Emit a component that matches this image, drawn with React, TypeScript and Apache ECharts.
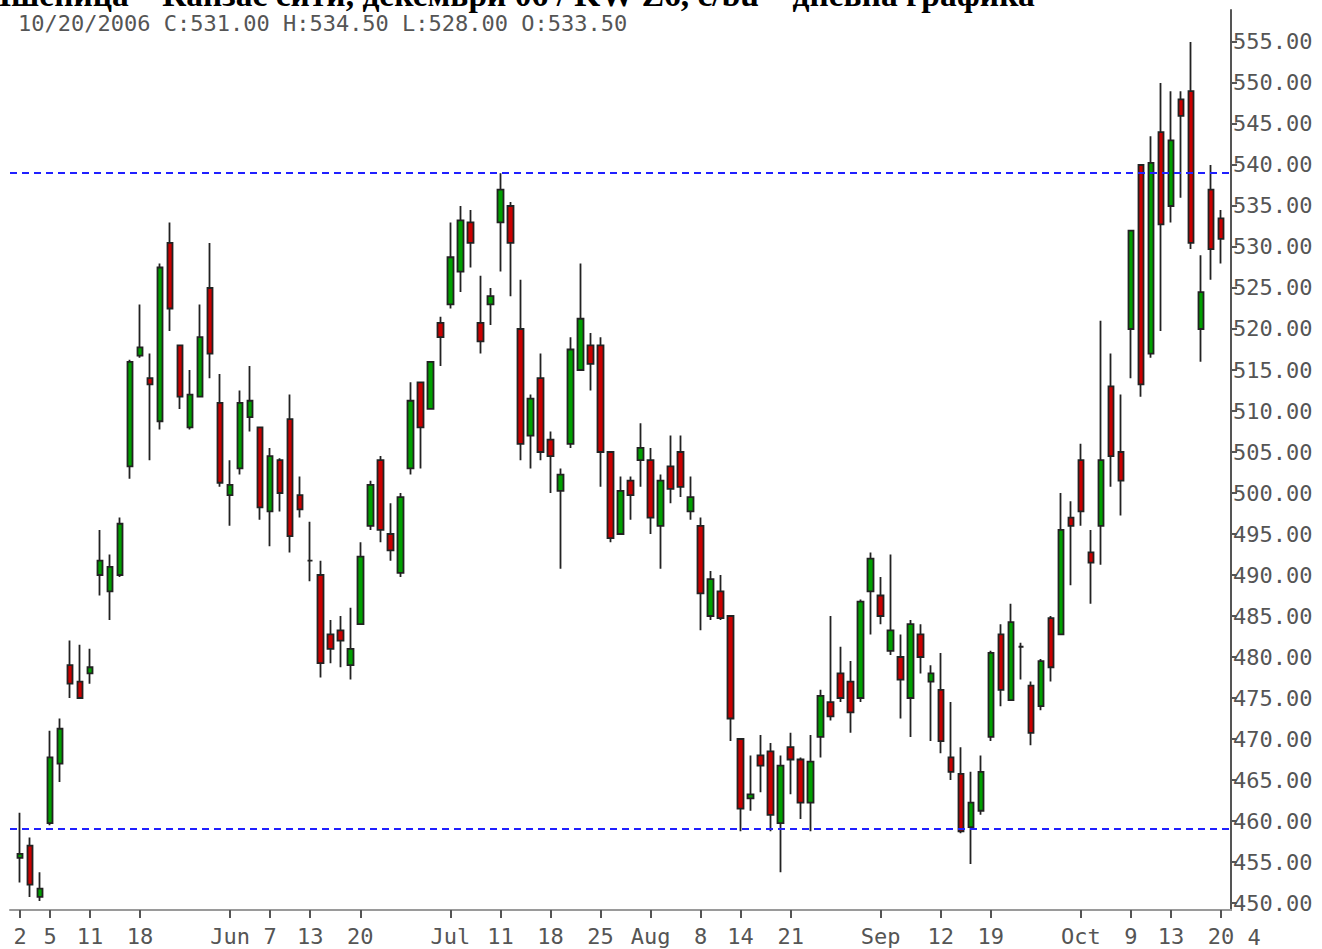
import React, { useEffect, useRef } from "react";
import * as echarts from "echarts";

// Trading days (2006) per month
const mayDays = [2, 3, 4, 5, 8, 9, 10, 11, 12, 15, 16, 17, 18, 19, 22, 23, 24, 25, 26, 30, 31];
const junDays = [1, 2, 5, 6, 7, 8, 9, 12, 13, 14, 15, 16, 19, 20, 21, 22, 23, 26, 27, 28, 29, 30];
const julDays = [3, 5, 6, 7, 10, 11, 12, 13, 14, 17, 18, 19, 20, 21, 24, 25, 26, 27, 28, 31];
const augDays = [1, 2, 3, 4, 7, 8, 9, 10, 11, 14, 15, 16, 17, 18, 21, 22, 23, 24, 25, 28, 29, 30, 31];
const sepDays = [1, 5, 6, 7, 8, 11, 12, 13, 14, 15, 18, 19, 20, 21, 22, 25, 26, 27, 28, 29];
const octDays = [2, 3, 4, 5, 6, 9, 10, 11, 12, 13, 16, 17, 18, 19, 20];

const opens = [
  455.5, 457, 450.75, 459.75, 467, 479, 477, 478, 490, 488,
  490, 503.25, 516.75, 514, 508.75, 530.5, 518, 508, 511.75, 525,
  511, 499.75, 503, 509.25, 508, 497.75, 504, 509, 499.75, 491.75,
  490, 482.75, 483.25, 479, 484, 496, 504, 495, 490.25, 503,
  513.5, 510.25, 520.75, 523, 527, 533, 520.75, 523, 533, 535,
  520, 507, 514, 506.5, 500.25, 506, 515, 518, 518, 505,
  495, 501.5, 504, 504, 496, 503.25, 505, 497.75, 496, 485,
  488, 485, 470, 462.75, 468, 468.5, 459.75, 469, 467.5, 462.25,
  470.25, 474.5, 478, 477, 475, 488, 487.5, 480.75, 480, 475,
  482.75, 477, 476, 467.75, 465.75, 459.25, 461.25, 470.25, 482.75, 474.75,
  481.25, 476.5, 474, 484.75, 482.75, 497, 504, 492.75, 496, 513,
  505, 520, 540, 517, 544, 535, 548, 549, 520, 537,
  533.5,
];
const closes = [
  456, 452.25, 451.75, 467.75, 471.25, 476.75, 475, 478.75, 491.75, 491,
  496.25, 516, 517.75, 513.25, 527.5, 522.5, 511.75, 512, 519, 517,
  501.25, 501, 511, 511.25, 498.25, 504.5, 500, 494.75, 498, 491.75,
  479.25, 481, 482, 481, 492.25, 501, 495.5, 493, 499.5, 511.25,
  508, 516, 519, 528.75, 533.25, 530.5, 518.5, 524, 537, 530.5,
  506, 511.5, 505, 504.5, 502.25, 517.5, 521.25, 515.75, 505, 494.5,
  500.25, 499.75, 505.5, 497, 501.5, 500.5, 500.75, 499.5, 487.75, 489.5,
  484.75, 472.5, 461.5, 463.25, 466.75, 460.75, 466.75, 467.5, 462.25, 467.25,
  475.25, 472.75, 475, 473.25, 486.75, 492, 485, 483.25, 477.25, 484,
  480, 478, 469.75, 466, 458.75, 462.25, 466, 480.5, 476, 484.25,
  481.25, 470.75, 479.5, 478.75, 495.5, 496, 497.75, 491.5, 504, 504.5,
  501.5, 532, 513.25, 540.25, 532.75, 543, 546, 530.5, 524.5, 529.75,
  531,
];
const lows = [
  452.5, 450.75, 450.25, 459.5, 464.75, 475, 475, 476.75, 487.5, 484.5,
  489.75, 501.75, 516.5, 504, 507.75, 519.75, 510.25, 507.75, 511.75, 514,
  500.75, 496, 502.25, 507.5, 496.75, 493.5, 497.75, 492.75, 497, 489.25,
  477.5, 479.25, 478.75, 477.25, 484, 495.5, 494, 491.75, 489.75, 502.25,
  503, 510.25, 515.5, 522.5, 524.5, 527.5, 517, 520.5, 527, 524,
  504, 503, 504, 500, 490.75, 505.5, 515, 512.5, 500.75, 494,
  495, 496.75, 500.75, 495, 490.75, 498.75, 499.5, 496.75, 483.25, 484.5,
  484.5, 469.75, 458.75, 461.25, 463.5, 458.75, 453.75, 463.25, 460.25, 458.75,
  467.75, 472.25, 474.5, 470.75, 474.5, 482.75, 484, 480.25, 472.5, 470.25,
  478, 469.75, 468.25, 465, 458.5, 454.75, 460.75, 469.75, 474, 474.75,
  477.25, 469.25, 473.5, 477, 482.75, 488.75, 496, 486.5, 491.25, 500.75,
  497.25, 514, 511.75, 516.5, 519.75, 533, 536, 529.75, 516, 526,
  528,
];
const highs = [
  461, 458, 453.75, 471, 472.5, 482, 481.5, 481, 495.5, 492.5,
  497, 516.25, 523, 517, 528, 533, 518, 515, 523, 530.5,
  514.5, 504, 512.5, 515.5, 508, 505.5, 504.25, 512, 502, 496.5,
  491.75, 484.5, 485, 486, 494, 501.5, 504.5, 498.75, 500, 513.5,
  513.5, 516, 521.5, 533, 535, 534.5, 526.5, 525, 539, 535.5,
  526, 512, 517, 507.5, 503, 519, 528, 519.5, 519, 505,
  502, 502, 508.5, 505.5, 502.25, 507, 507, 502, 497, 490.5,
  490, 485, 470, 468, 470.5, 469.5, 468, 470.75, 467.75, 470.5,
  476, 485, 481.25, 479.5, 487, 492.75, 489.75, 492.5, 482.75, 484.5,
  484, 479, 480.5, 474.5, 469, 466, 468, 480.75, 484, 486.5,
  481.75, 477, 479.75, 485, 500, 499, 506, 495.5, 521, 517,
  512, 532, 540, 543.5, 550, 549, 549, 555, 529, 540,
  534.5,
];

const supportLevel = 459;
const resistanceLevel = 539;

const tickDates = [
  "05/02", "05/05", "05/11", "05/18", "06/01", "06/07", "06/13", "06/20",
  "07/03", "07/11", "07/18", "07/25", "08/01", "08/08", "08/14", "08/21",
  "09/01", "09/12", "09/19", "10/02", "10/09", "10/13", "10/20",
];
const tickLabels = [
  "2", "5", "11", "18", "Jun", "7", "13", "20",
  "Jul", "11", "18", "25", "Aug", "8", "14", "21",
  "Sep", "12", "19", "Oct", "9", "13", "20",
];
const yTicks = [450, 455, 460, 465, 470, 475, 480, 485, 490, 495, 500, 505, 510, 515, 520, 525, 530, 535, 540, 545, 550, 555];

const titleText = "Пшеница – Канзас сити, декември 06 / KW Z6, c/bu – дневна графика";
const infoText = "10/20/2006 C:531.00 H:534.50 L:528.00 O:533.50";

const pad = (n: number) => (n < 10 ? "0" + n : "" + n);

export default function App() {
  const ref = useRef<HTMLDivElement>(null);
  useEffect(() => {
    if (!ref.current) return;
    const chart = echarts.init(ref.current, undefined, { renderer: "svg" });

    const months: [number, number[]][] = [
      [5, mayDays], [6, junDays], [7, julDays], [8, augDays], [9, sepDays], [10, octDays],
    ];
    const dates: string[] = [];
    months.forEach(([m, days]) => days.forEach((d) => dates.push(pad(m) + "/" + pad(d))));
    const categories = ["", ...dates, ""];
    const candles: any[] = opens.map((o, i) => [o, closes[i], lows[i], highs[i]]);
    const data = ["-", ...candles, "-"];

    const labelMap: Record<string, string> = {};
    tickDates.forEach((d, i) => (labelMap[d] = tickLabels[i]));

    const font = "DejaVu Sans Mono";
    chart.setOption({
      animation: false,
      backgroundColor: "#ffffff",
      grid: { left: 10, right: 91, top: 10, bottom: 39 },
      xAxis: {
        type: "category",
        data: categories,
        boundaryGap: false,
        axisLine: { show: true, lineStyle: { color: "#9a9a9a", width: 2 } },
        axisTick: {
          show: true,
          length: 8,
          interval: (_i: number, v: string) => v in labelMap,
          lineStyle: { color: "#555", width: 2 },
        },
        axisLabel: {
          interval: (_i: number, v: string) => v in labelMap,
          formatter: (v: string) => labelMap[v] || "",
          color: "#555",
          fontFamily: font,
          fontSize: 22,
          margin: 15,
        },
        splitLine: { show: false },
      },
      yAxis: {
        type: "value",
        position: "right",
        min: 449.15,
        max: 558.9,
        scale: true,
        axisLine: { show: true, lineStyle: { color: "#555", width: 2 } },
        axisTick: { show: true, length: 6, customValues: yTicks, lineStyle: { color: "#555", width: 2 } },
        axisLabel: {
          customValues: yTicks,
          formatter: (v: number) => v.toFixed(2),
          color: "#555",
          fontFamily: font,
          fontSize: 22,
          margin: 2,
        },
        splitLine: { show: false },
      },
      series: [
        {
          type: "candlestick",
          data,
          barWidth: 6,
          clip: false,
          itemStyle: {
            color: "#00a000",
            color0: "#cc0000",
            borderColor: "#222",
            borderColor0: "#222",
            borderColorDoji: "#222",
            borderWidth: 1.8,
          },
          markLine: {
            silent: true,
            symbol: "none",
            label: { show: false },
            lineStyle: { color: "#2020ff", type: [7, 5], width: 2 },
            data: [{ yAxis: resistanceLevel }, { yAxis: supportLevel }],
          },
        },
      ],
      graphic: [
        {
          type: "text",
          x: -15,
          y: 11,
          style: {
            text: titleText,
            font: 'bold 33.5px "Liberation Serif"',
            fill: "#000",
            align: "left",
            verticalAlign: "bottom",
          },
        },
        {
          type: "text",
          x: 18,
          y: 23,
          style: {
            text: infoText,
            font: '22px "DejaVu Sans Mono"',
            fill: "#555",
            align: "left",
            verticalAlign: "middle",
          },
        },
        {
          type: "text",
          x: 1254,
          y: 937,
          style: {
            text: "4",
            font: '22px "DejaVu Sans Mono"',
            fill: "#555",
            align: "center",
            verticalAlign: "middle",
          },
        },
      ],
    });
    return () => chart.dispose();
  }, []);
  return <div ref={ref} style={{ position: "absolute", left: 0, top: 0, width: 1322, height: 949 }} />;
}
